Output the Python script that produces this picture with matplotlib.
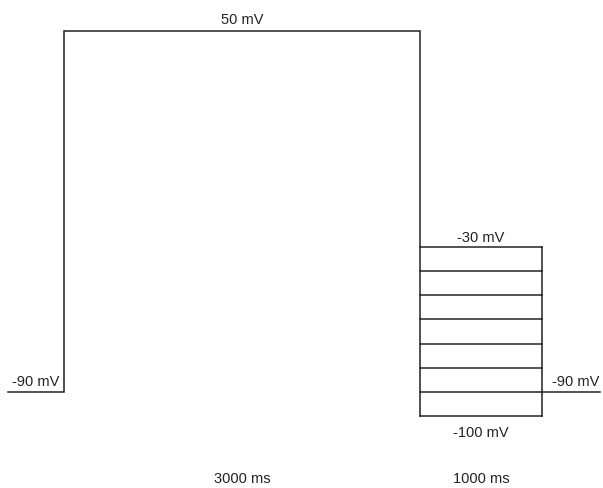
import numpy as np
import matplotlib
matplotlib.use("Agg")
import matplotlib.pyplot as plt

# ---- protocol data ----
holding_mv = -90
prepulse_mv = 50
prepulse_ms = 3000
test_ms = 1000
hold_ms = 500
test_levels_mv = [-30, -40, -50, -60, -70, -80, -90, -100]
labels_duration = ["3000 ms", "1000 ms"]

# schematic (not-to-scale) mapping
t0 = 0
t1 = t0 + hold_ms
t2 = t1 + prepulse_ms
t3 = t2 + test_ms
t4 = t3 + hold_ms
T_KNOTS = [t0, t1, t2, t3, t4]
PX_KNOTS = [0, 56, 412, 534, 592]
V_KNOTS = [-100, -30, 50]
PY_KNOTS = [0, 169, 385]

def fx(t):
    return np.interp(t, T_KNOTS, PX_KNOTS)
def fxi(p):
    return np.interp(p, PX_KNOTS, T_KNOTS)
def fy(v):
    return np.interp(v, V_KNOTS, PY_KNOTS)
def fyi(p):
    return np.interp(p, PY_KNOTS, V_KNOTS)

W, H = 603, 489
fig = plt.figure(figsize=(W / 100, H / 100), dpi=100)
ax = fig.add_axes([8 / W, (H - 417) / H, 592 / W, 385 / H])
ax.set_xscale('function', functions=(fx, fxi))
ax.set_yscale('function', functions=(fy, fyi))
ax.set_xlim(t0, t4)
ax.set_ylim(min(test_levels_mv), prepulse_mv)
ax.axis('off')

lc = '#222222'
lw = 1.1
# holding -> prepulse -> drop to test region
ax.plot([t0, t1, t1, t2, t2], [holding_mv, holding_mv, prepulse_mv, prepulse_mv, min(test_levels_mv)],
        color=lc, lw=lw, clip_on=False, solid_joinstyle='miter')
# test step rectangle and levels
ax.plot([t3, t3], [max(test_levels_mv), min(test_levels_mv)], color=lc, lw=lw, clip_on=False)
for v in test_levels_mv:
    ax.plot([t2, t3], [v, v], color=lc, lw=lw, clip_on=False)
# return to holding
ax.plot([t3, t4], [holding_mv, holding_mv], color=lc, lw=lw, clip_on=False)

font = dict(family=['Liberation Sans', 'DejaVu Sans'], fontsize=10.5, color='#222222')
def lab(text, x, y, dy, dx=0):
    ax.annotate(text, (x, y), xytext=(dx, dy), textcoords='offset pixels',
                ha='center', va='center', annotation_clip=False, **font)

lab(f"{prepulse_mv} mV", (t1 + t2) / 2, prepulse_mv, 12)
lab(f"{max(test_levels_mv)} mV", (t2 + t3) / 2, max(test_levels_mv), 10)
lab(f"{min(test_levels_mv)} mV", (t2 + t3) / 2, min(test_levels_mv), -16)
lab(f"{holding_mv} mV", (t0 + t1) / 2, holding_mv, 11)
lab(f"{holding_mv} mV", (t3 + t4) / 2, holding_mv, 11, dx=5)
lab(labels_duration[0], (t1 + t2) / 2, min(test_levels_mv), -62)
lab(labels_duration[1], (t2 + t3) / 2, min(test_levels_mv), -62)

fig.savefig("out.png", dpi=100, facecolor='white')
